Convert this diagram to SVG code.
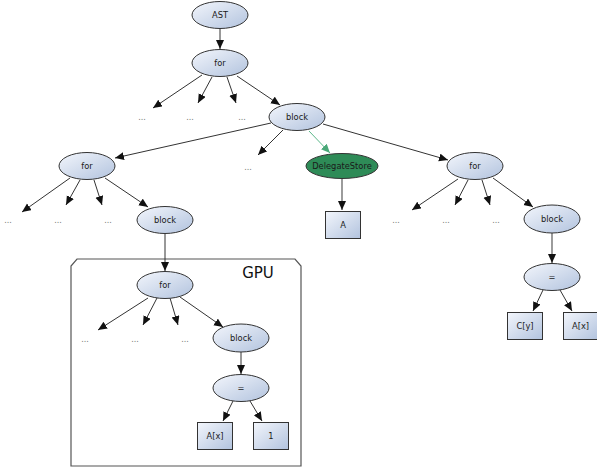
<svg xmlns="http://www.w3.org/2000/svg" width="597" height="472" viewBox="0 0 597 472">
<style>
.n{fill:url(#g);stroke:#333;stroke-width:1}
.ds{fill:#2e8b57;stroke:#333;stroke-width:1}
.t{font-family:"DejaVu Sans",sans-serif;font-size:8.3px;fill:#1a1a1a;text-anchor:middle;dominant-baseline:central}
.d{font-family:"DejaVu Sans",sans-serif;font-size:8px;fill:#777;text-anchor:middle}
.e{stroke:#333;stroke-width:1;fill:none;marker-end:url(#ah)}
.eg{stroke:#666;stroke-width:1.3;fill:none;marker-end:url(#ah)}
.egr{stroke:#5cb88a;stroke-width:1;fill:none;marker-end:url(#ahg)}
</style>
<defs>
<linearGradient id="g" x1="0" y1="0" x2="1" y2="1">
<stop offset="0" stop-color="#f3f6fc"/>
<stop offset="1" stop-color="#b2c3de"/>
</linearGradient>
<marker id="ah" markerUnits="userSpaceOnUse" markerWidth="10" markerHeight="9" refX="9" refY="4" orient="auto">
<path d="M0,0 L9,4 L0,8 z" fill="#111"/>
</marker>
<marker id="ahg" markerUnits="userSpaceOnUse" markerWidth="10" markerHeight="9" refX="9" refY="4" orient="auto">
<path d="M0,0 L9,4 L0,8 z" fill="#4aa878"/>
</marker>
</defs>
<rect width="597" height="472" fill="#fff"/>
<g id="gpu">
<path d="M71,466 L71,266 L77,259 L295,259 L301,266 L301,466 Z" fill="none" stroke="#555" stroke-width="1.2"/>
<text x="258" y="278" font-family="DejaVu Sans,sans-serif" font-size="15" fill="#111" text-anchor="middle">GPU</text>
</g>
<g id="connectors">
<line class="e" x1="220" y1="28" x2="220" y2="49"/>
<line class="e" x1="202" y1="75" x2="153" y2="108"/>
<line class="e" x1="212" y1="77" x2="198" y2="103"/>
<line class="e" x1="227" y1="77" x2="236" y2="103"/>
<line class="e" x1="237" y1="76" x2="280" y2="105"/>
<line class="e" x1="271" y1="123" x2="115" y2="158"/>
<line class="e" x1="283" y1="130" x2="258" y2="155"/>
<line class="egr" x1="309" y1="131" x2="330" y2="153"/>
<line class="e" x1="323" y1="124" x2="448" y2="160"/>
<line class="eg" x1="342" y1="179" x2="342" y2="210"/>
<line class="e" x1="70" y1="178" x2="22" y2="212"/>
<line class="e" x1="80" y1="180" x2="66" y2="205"/>
<line class="e" x1="94" y1="180" x2="102" y2="205"/>
<line class="e" x1="105" y1="178" x2="148" y2="207"/>
<line class="e" x1="458" y1="179" x2="412" y2="210"/>
<line class="e" x1="468" y1="180" x2="455" y2="205"/>
<line class="e" x1="482" y1="180" x2="490" y2="205"/>
<line class="e" x1="493" y1="178" x2="533" y2="207"/>
<line class="e" x1="165" y1="234" x2="165" y2="271"/>
<line class="e" x1="148" y1="298" x2="98" y2="330"/>
<line class="e" x1="157" y1="298" x2="143" y2="325"/>
<line class="e" x1="170" y1="298" x2="178" y2="325"/>
<line class="e" x1="180" y1="297" x2="223" y2="327"/>
<line class="e" x1="241" y1="352" x2="241" y2="374"/>
<line class="e" x1="233" y1="401" x2="223" y2="421"/>
<line class="e" x1="250" y1="401" x2="262" y2="421"/>
<line class="eg" x1="552" y1="233" x2="552" y2="263"/>
<line class="e" x1="543" y1="290" x2="533" y2="311"/>
<line class="e" x1="560" y1="290" x2="572" y2="311"/>
</g>
<g id="dots">
<text class="d" x="142" y="120">...</text>
<text class="d" x="190" y="120">...</text>
<text class="d" x="242" y="120">...</text>
<text class="d" x="248" y="170">...</text>
<text class="d" x="8" y="223">...</text>
<text class="d" x="58" y="223">...</text>
<text class="d" x="108" y="223">...</text>
<text class="d" x="396" y="223">...</text>
<text class="d" x="446" y="223">...</text>
<text class="d" x="496" y="223">...</text>
<text class="d" x="85" y="342">...</text>
<text class="d" x="135" y="342">...</text>
<text class="d" x="185" y="342">...</text>
</g>
<g id="ast"><ellipse class="n" cx="220" cy="15" rx="28" ry="13.5"/><text class="t" x="220" y="15">AST</text></g>
<g id="for0"><ellipse class="n" cx="220" cy="63" rx="28" ry="13.5"/><text class="t" x="220" y="63">for</text></g>
<g id="block0"><ellipse class="n" cx="297" cy="117" rx="28" ry="13.5"/><text class="t" x="297" y="117">block</text></g>
<g id="forL"><ellipse class="n" cx="87" cy="166" rx="28" ry="13.5"/><text class="t" x="87" y="166">for</text></g>
<g id="delegatestore"><ellipse class="ds" cx="342" cy="166" rx="36" ry="12.5"/><text class="t" x="342" y="166">DelegateStore</text></g>
<g id="forR"><ellipse class="n" cx="475" cy="166" rx="28" ry="13.5"/><text class="t" x="475" y="166">for</text></g>
<g id="blockL"><ellipse class="n" cx="165" cy="220" rx="28" ry="13.5"/><text class="t" x="165" y="220">block</text></g>
<g id="boxA"><rect class="n" x="325.5" y="211.5" width="35" height="27"/><text class="t" x="343" y="225">A</text></g>
<g id="blockR"><ellipse class="n" cx="552" cy="219" rx="28" ry="14"/><text class="t" x="552" y="219">block</text></g>
<g id="forG"><ellipse class="n" cx="165" cy="285" rx="28" ry="13.5"/><text class="t" x="165" y="285">for</text></g>
<g id="eqR"><ellipse class="n" cx="552" cy="277" rx="28" ry="13.5"/><text class="t" x="552" y="277">=</text></g>
<g id="boxCy"><rect class="n" x="507.5" y="312.5" width="35" height="27"/><text class="t" x="525" y="326">C[y]</text></g>
<g id="boxAxR"><rect class="n" x="563.5" y="312.5" width="34" height="27"/><text class="t" x="580.5" y="326">A[x]</text></g>
<g id="blockG"><ellipse class="n" cx="241" cy="338" rx="28" ry="14"/><text class="t" x="241" y="338">block</text></g>
<g id="eqG"><ellipse class="n" cx="241" cy="388" rx="28" ry="13.5"/><text class="t" x="241" y="388">=</text></g>
<g id="boxAxG"><rect class="n" x="197.5" y="422.5" width="35" height="27"/><text class="t" x="215" y="436">A[x]</text></g>
<g id="box1"><rect class="n" x="253.5" y="422.5" width="35" height="27"/><text class="t" x="271" y="436">1</text></g>
</svg>
